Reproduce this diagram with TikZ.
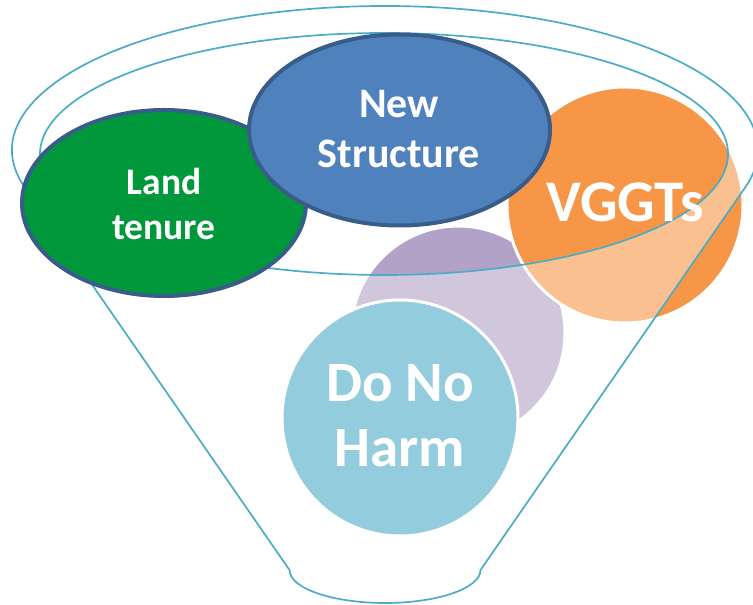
\documentclass[tikz,border=0pt]{standalone}
\usepackage{fontspec}
\setmainfont{Carlito}
\usetikzlibrary{shapes.geometric}
\definecolor{funnelc}{HTML}{4BACC6}
\definecolor{greenc}{HTML}{00983A}
\definecolor{nsblue}{HTML}{4F81BD}
\definecolor{bordc}{HTML}{385D8A}
\definecolor{orangec}{HTML}{F79646}
\definecolor{purplec}{HTML}{B3A2C7}
\definecolor{dnhc}{HTML}{93CDDD}
\begin{document}
\begin{tikzpicture}[x=1pt,y=1pt,
  rim/.style={draw=funnelc, line width=1.7pt},
  disc/.style={circle, draw=white, line width=3pt, inner sep=0pt},
  oval/.style={ellipse, draw=bordc, line width=4pt, inner sep=0pt},
  lbl/.style={text=white, anchor=base, inner sep=0pt}]
\useasboundingbox (0,0) rectangle (753,605);
% circles behind the funnel
\node[disc, fill=purplec, minimum size=214pt] (back) at (458,272) {};
\node[disc, fill=orangec, minimum size=236pt] (vggt) at (625,400) {};
% funnel body (semi-transparent)
\fill[white, fill opacity=0.4, even odd rule]
  (24.7,417.7) arc[start angle=195, end angle=-15, x radius=373, y radius=144]
  -- (480.5,35) arc[start angle=0, end angle=-180, x radius=95.5, y radius=33]
  -- cycle
  (384,451) ellipse[x radius=344, y radius=121];
\draw[rim]
  (24.7,417.7) arc[start angle=195, end angle=-15, x radius=373, y radius=144]
  -- (480.5,35) arc[start angle=0, end angle=-180, x radius=95.5, y radius=33]
  -- cycle;
\draw[rim] (384,451) ellipse[x radius=344, y radius=121];
% front shapes
\node[oval, fill=greenc, minimum width=284pt, minimum height=186pt] (land) at (164,402) {};
\node[oval, fill=nsblue, minimum width=301pt, minimum height=191pt] (ns) at (399.5,475) {};
\node[disc, fill=dnhc, minimum size=236pt] (dnh) at (400,187) {};
% labels
\node[lbl, font=\bfseries\fontsize{37.5}{40}\selectfont] (landA) at (164,410) {Land};
\node[lbl, font=\bfseries\fontsize{37.5}{40}\selectfont] (landB) at (164,365) {tenure};
\node[lbl, font=\bfseries\fontsize{42}{46}\selectfont] (nsA) at (399,487) {New};
\node[lbl, font=\bfseries\fontsize{42}{46}\selectfont] (nsB) at (399,437) {Structure};
\node[lbl, font=\bfseries\fontsize{59}{64}\selectfont] (vgA) at (625,383) {VGGTs};
\node[lbl, font=\bfseries\fontsize{57}{62}\selectfont] (dnA) at (400,203) {Do No};
\node[lbl, font=\bfseries\fontsize{57}{62}\selectfont] (dnB) at (400,138) {Harm};
\end{tikzpicture}
\end{document}
